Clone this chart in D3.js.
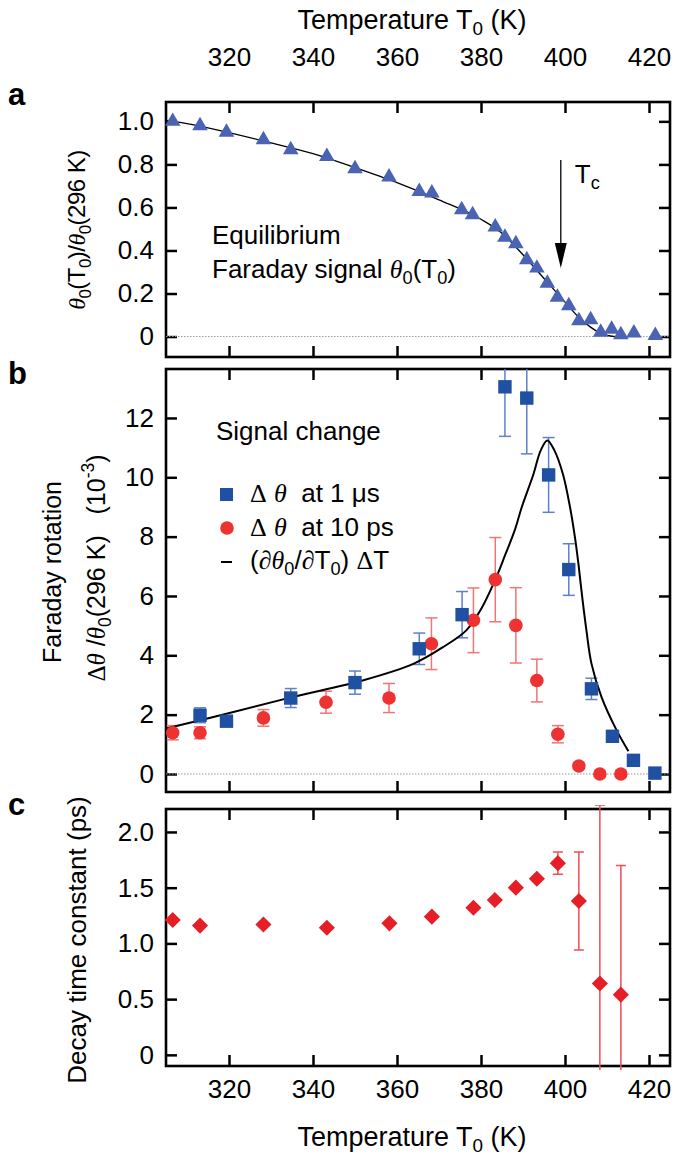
<!DOCTYPE html>
<html>
<head>
<meta charset="utf-8">
<script src="https://cdn.jsdelivr.net/npm/d3@7"></script>
<style>
body { margin: 0; background: #fff; }
svg { display: block; }
text { font-family: "Liberation Sans", Arial, sans-serif; fill: #000; }
</style>
</head>
<body>
<svg width="680" height="1155"></svg>
<script>
// ---- data ----
// panel a: equilibrium Faraday signal
let tempA = [306.6, 313.1, 319.4, 328.2, 334.7, 343.3, 350.0, 358.1, 365.3, 368.3, 375.4, 378.0, 383.4, 385.7,
    388.3, 390.9, 393.3, 395.8, 398.2, 400.9, 403.3, 406.1, 408.5, 411.1, 413.3, 416.4, 421.5];
let equilA = [1.0, 0.98, 0.949, 0.915, 0.868, 0.837, 0.78, 0.741, 0.674, 0.667, 0.589, 0.566, 0.509, 0.462,
    0.431, 0.357, 0.318, 0.248, 0.183, 0.143, 0.074, 0.078, 0.02, 0.034, 0.008, 0.016, 0.005];
let fitAT = [305, 310, 320, 330, 340, 350, 360, 370, 380, 385, 390, 395, 400, 403, 406, 408, 410, 412];
let fitAV = [1.005, 0.99, 0.948, 0.9, 0.85, 0.785, 0.715, 0.635, 0.545, 0.48, 0.38, 0.27, 0.16, 0.095, 0.045, 0.02, 0.005, 0];

// panel b: signal change at 1 us (blue) and 10 ps (red)
let tempBlue = [313.1, 319.4, 334.7, 350.0, 365.3, 375.5, 385.7, 390.9, 396.1, 400.9, 406.3, 411.3, 416.3, 421.4];
let blueVal = [1.98, 1.78, 2.56, 3.08, 4.22, 5.37, 13.05, 12.67, 10.08, 6.89, 2.87, 1.27, 0.46, 0.03];
let blueErr = [0.25, 0, 0.32, 0.39, 0.53, 0.78, 1.67, 1.88, 1.26, 0.87, 0.36, 0, 0, 0];

let tempRed = [306.6, 313.1, 328.2, 343.1, 358.1, 368.2, 378.2, 383.4, 388.3, 393.3, 398.3, 403.3, 408.3, 413.3];
let redVal = [1.39, 1.39, 1.89, 2.42, 2.56, 4.39, 5.18, 6.55, 5.01, 3.15, 1.34, 0.27, 0.0, 0.0];
let redErr = [0.24, 0.2, 0.28, 0.37, 0.49, 0.87, 1.09, 1.42, 1.27, 0.72, 0.29, 0, 0, 0];

// derivative curve (d theta0 / d T0) dT
let fitBT = [305, 319.4, 335, 352, 364, 371, 376.5, 380, 383.4, 385.8, 388, 389.7, 392.5, 394.2, 395.8,
    397.5, 399.5, 401.2, 402.3, 403.2, 404.1, 405.1, 406.3, 408.7, 412.3, 415.1];
let fitBV = [1.53, 2.03, 2.59, 3.16, 3.72, 4.28, 4.84, 5.55, 6.55, 7.4, 8.2, 8.99, 10.11, 10.9, 11.24,
    10.9, 10.11, 8.99, 8.04, 7.08, 5.96, 4.84, 3.72, 2.59, 1.47, 0.77];

// panel c: decay time constant
let tempDecay = [306.6, 313.1, 328.2, 343.3, 358.2, 368.3, 378.2, 383.3, 388.3, 393.3, 398.3, 403.3, 408.3, 413.3];
let decay = [1.21, 1.16, 1.17, 1.14, 1.18, 1.24, 1.32, 1.39, 1.50, 1.58, 1.72, 1.38, 0.64, 0.54];
let decayErr = [0, 0, 0, 0, 0, 0, 0, 0, 0, 0, 0.1, 0.44, 1.6, 1.16];

let xTicks = [320, 340, 360, 380, 400, 420];
let yTicksA = [0, 0.2, 0.4, 0.6, 0.8, 1.0];
let yTicksB = [0, 2, 4, 6, 8, 10, 12];
let yTicksC = [0, 0.5, 1.0, 1.5, 2.0];

// ---- layout ----
let svg = d3.select("svg");
let x = d3.scaleLinear().domain([305, 425]).range([166, 670]);
let yA = d3.scaleLinear().domain([-0.095, 1.09]).range([357, 102]);
let yB = d3.scaleLinear().domain([-0.607, 13.65]).range([792, 369]);
let yC = d3.scaleLinear().domain([-0.1, 2.206]).range([1066, 809]);

let sans = "Liberation Sans, Arial, sans-serif";
let serif = "Liberation Serif, Times New Roman, serif";
let openSans = "Open Sans, sans-serif";
let tickFs = 26;
let textFs = 26;
let titleFs = 27;

// write text made of pieces: "th" serif italic, "serif", "sub", "sup"
function rich(t, parts) {
    let shift = 0;
    parts.forEach(([s, k]) => {
        let sp = t.append("tspan").text(s);
        let target = k === "sub" ? 6 : k === "sup" ? -11 : 0;
        if (target !== shift) sp.attr("dy", target - shift);
        shift = target;
        if (k === "sub" || k === "sup") sp.attr("font-size", "0.7em");
        if (k === "th") sp.attr("font-family", serif).attr("font-style", "italic");
        if (k === "serif") sp.attr("font-family", serif);
    });
    return t;
}

function styleAxis(g, font) {
    g.select(".domain").remove();
    g.attr("font-size", tickFs).attr("font-family", font);
    g.selectAll(".tick line").attr("stroke", "#000").attr("stroke-width", 2.5);
    g.selectAll(".tick text").attr("fill", "#000");
}

// frame with inward ticks on all four sides
function panel(y, yTicks, yFmt, opts) {
    let [x0, x1] = x.range();
    let [yb, yt] = y.range();
    let g = svg.append("g");

    g.append("g").attr("transform", `translate(${x0},0)`)
        .call(d3.axisLeft(y).tickValues(yTicks).tickFormat(yFmt).tickSize(-11).tickPadding(12))
        .call((a) => styleAxis(a, opts.yFont));
    g.append("g").attr("transform", `translate(${x1},0)`)
        .call(d3.axisRight(y).tickValues(yTicks).tickFormat("").tickSize(-11))
        .call((a) => styleAxis(a, opts.yFont));
    g.append("g").attr("transform", `translate(0,${yt})`)
        .call(d3.axisTop(x).tickValues(xTicks).tickFormat(opts.top ? d3.format("d") : "").tickSize(-11).tickPadding(36))
        .call((a) => styleAxis(a, sans));
    g.append("g").attr("transform", `translate(0,${yb})`)
        .call(d3.axisBottom(x).tickValues(xTicks).tickFormat(opts.bottom ? d3.format("d") : "").tickSize(-11).tickPadding(14))
        .call((a) => styleAxis(a, sans));

    g.append("rect")
        .attr("x", x0).attr("y", yt)
        .attr("width", x1 - x0).attr("height", yb - yt)
        .attr("fill", "none").attr("stroke", "#000").attr("stroke-width", 2.6);
    return g;
}

function zeroLine(y) {
    svg.append("line")
        .attr("x1", x.range()[0]).attr("x2", x.range()[1])
        .attr("y1", y(0)).attr("y2", y(0))
        .attr("stroke", "#999").attr("stroke-width", 1).attr("stroke-dasharray", "1.5,1.5");
}

function errorBars(g, xs, vs, es, y, color, cap) {
    let rows = xs.map((t, i) => ({ t: t, v: vs[i], e: es[i] })).filter((d) => d.e > 0);
    let eb = g.append("g").attr("stroke", color).attr("stroke-width", 1.5);
    eb.selectAll("line.v").data(rows).enter().append("line")
        .attr("x1", (d) => x(d.t)).attr("x2", (d) => x(d.t))
        .attr("y1", (d) => y(d.v + d.e)).attr("y2", (d) => y(d.v - d.e));
    [1, -1].forEach((s) => {
        eb.selectAll("line.c" + s).data(rows).enter().append("line")
            .attr("x1", (d) => x(d.t) - cap).attr("x2", (d) => x(d.t) + cap)
            .attr("y1", (d) => y(d.v + s * d.e)).attr("y2", (d) => y(d.v + s * d.e));
    });
}

let fmtA = (d) => (d === 0 ? "0" : d3.format(".1f")(d));

// ---- panel a ----
panel(yA, yTicksA, fmtA, { top: true, bottom: false, yFont: sans });
zeroLine(yA);

svg.append("path")
    .datum(fitAT.map((t, i) => [t, fitAV[i]]))
    .attr("fill", "none").attr("stroke", "#000").attr("stroke-width", 1.3)
    .attr("d", d3.line().x((d) => x(d[0])).y((d) => yA(d[1])).curve(d3.curveMonotoneX));

svg.append("g").selectAll("path")
    .data(tempA.map((t, i) => [t, equilA[i]]))
    .enter().append("path")
    .attr("transform", (d) => `translate(${x(d[0])},${yA(d[1])})`)
    .attr("d", d3.symbol(d3.symbolTriangle, 105))
    .attr("fill", "#4a63b2");

// Tc arrow
let xTc = x(399);
svg.append("line").attr("x1", xTc).attr("x2", xTc).attr("y1", 160).attr("y2", 246)
    .attr("stroke", "#000").attr("stroke-width", 1.3);
svg.append("path").attr("d", `M${xTc - 6},243L${xTc + 6},243L${xTc},268Z`).attr("fill", "#000");
rich(svg.append("text").attr("x", xTc + 14).attr("y", 183).attr("font-size", textFs), [["T", ""], ["c", "sub"]]);

svg.append("text").attr("x", 212).attr("y", 244).attr("font-size", textFs).text("Equilibrium");
rich(svg.append("text").attr("x", 212).attr("y", 278).attr("font-size", textFs),
    [["Faraday signal ", ""], ["θ", "th"], ["0", "sub"], ["(T", ""], ["0", "sub"], [")", ""]]);

// ---- panel b ----
panel(yB, yTicksB, d3.format("d"), { top: false, bottom: false, yFont: sans });
zeroLine(yB);

svg.append("clipPath").attr("id", "clipB").append("rect")
    .attr("x", x.range()[0]).attr("y", yB.range()[1])
    .attr("width", x.range()[1] - x.range()[0]).attr("height", yB.range()[0] - yB.range()[1]);
let gB = svg.append("g").attr("clip-path", "url(#clipB)");

svg.append("path")
    .datum(fitBT.map((t, i) => [t, fitBV[i]]))
    .attr("fill", "none").attr("stroke", "#000").attr("stroke-width", 2)
    .attr("d", d3.line().x((d) => x(d[0])).y((d) => yB(d[1])).curve(d3.curveCatmullRom.alpha(0.5)));

errorBars(gB, tempRed, redVal, redErr, yB, "#f27474", 6);
errorBars(gB, tempBlue, blueVal, blueErr, yB, "#5f80c6", 6);

svg.append("g").selectAll("circle")
    .data(tempRed.map((t, i) => [t, redVal[i]]))
    .enter().append("circle")
    .attr("cx", (d) => x(d[0])).attr("cy", (d) => yB(d[1])).attr("r", 6.8)
    .attr("fill", "#ee3131");

svg.append("g").selectAll("path")
    .data(tempBlue.map((t, i) => [t, blueVal[i]]))
    .enter().append("path")
    .attr("transform", (d) => `translate(${x(d[0])},${yB(d[1])})`)
    .attr("d", d3.symbol(d3.symbolSquare, 180))
    .attr("fill", "#1f50a2");

svg.append("text").attr("x", 216).attr("y", 440).attr("font-size", textFs).text("Signal change");

// legend
svg.append("rect").attr("x", 220).attr("y", 488).attr("width", 13).attr("height", 13).attr("fill", "#1f50a2");
rich(svg.append("text").attr("x", 250).attr("y", 502).attr("font-size", textFs),
    [["Δ", "serif"], ["\u00a0", ""], ["θ", "th"], ["\u00a0 at 1 μs", ""]]);
svg.append("circle").attr("cx", 227).attr("cy", 528).attr("r", 6.8).attr("fill", "#ee3131");
rich(svg.append("text").attr("x", 250).attr("y", 536).attr("font-size", textFs),
    [["Δ", "serif"], ["\u00a0", ""], ["θ", "th"], ["\u00a0 at 10 ps", ""]]);
svg.append("line").attr("x1", 221).attr("x2", 232).attr("y1", 562).attr("y2", 562)
    .attr("stroke", "#000").attr("stroke-width", 2);
rich(svg.append("text").attr("x", 250).attr("y", 569).attr("font-size", textFs),
    [["(", ""], ["∂θ", "th"], ["0", "sub"], ["/", ""], ["∂", "th"], ["T", ""], ["0", "sub"], [")\u00a0", ""],
        ["Δ", "serif"], ["T", ""]]);

// ---- panel c ----
let fmtC = (d) => (d === 0 ? "0" : d3.format(".1f")(d));
panel(yC, yTicksC, fmtC, { top: false, bottom: true, yFont: openSans });

svg.append("clipPath").attr("id", "clipC").append("rect")
    .attr("x", x.range()[0]).attr("y", yC(2.24))
    .attr("width", x.range()[1] - x.range()[0]).attr("height", yC(-0.135) - yC(2.24));
let gC = svg.append("g").attr("clip-path", "url(#clipC)");
errorBars(gC, tempDecay, decay, decayErr, yC, "#ef4c52", 5);

svg.append("g").selectAll("path")
    .data(tempDecay.map((t, i) => [t, decay[i]]))
    .enter().append("path")
    .attr("transform", (d) => `translate(${x(d[0])},${yC(d[1])}) rotate(45)`)
    .attr("d", d3.symbol(d3.symbolSquare, 130))
    .attr("fill", "#e61e28");

// ---- axis titles and panel letters ----
let xMid = (x.range()[0] + x.range()[1]) / 2;
rich(svg.append("text").attr("x", xMid - 6).attr("y", 29).attr("font-size", titleFs).attr("text-anchor", "middle"),
    [["Temperature T", ""], ["0", "sub"], [" (K)", ""]]);
rich(svg.append("text").attr("x", xMid - 6).attr("y", 1146).attr("font-size", titleFs).attr("text-anchor", "middle"),
    [["Temperature T", ""], ["0", "sub"], [" (K)", ""]]);

rich(svg.append("text").attr("transform", "translate(85,230) rotate(-90)").attr("font-size", 24)
    .attr("text-anchor", "middle").attr("letter-spacing", -0.5),
    [["θ", "th"], ["0", "sub"], ["(T", ""], ["0", "sub"], [")/", ""], ["θ", "th"], ["0", "sub"], ["(296 K)", ""]]);

svg.append("text").attr("transform", "translate(61,572) rotate(-90)").attr("font-size", 25)
    .attr("text-anchor", "middle").text("Faraday rotation");
rich(svg.append("text").attr("transform", "translate(105,568) rotate(-90)").attr("font-size", 25)
    .attr("text-anchor", "middle").attr("xml:space", "preserve"),
    [["Δ", "serif"], ["θ", "th"], [" /", ""], ["θ", "th"], ["0", "sub"], ["(296 K)   (10", ""], ["-3", "sup"], [")", ""]]);

svg.append("text").attr("transform", "translate(86,940) rotate(-90)").attr("font-size", 26)
    .attr("font-family", openSans).attr("text-anchor", "middle").text("Decay time constant (ps)");

[["a", 105], ["b", 384], ["c", 815]].forEach(([s, yy]) => {
    svg.append("text").attr("x", 8).attr("y", yy).attr("font-size", 31).attr("font-weight", "bold").text(s);
});
</script>
</body>
</html>
